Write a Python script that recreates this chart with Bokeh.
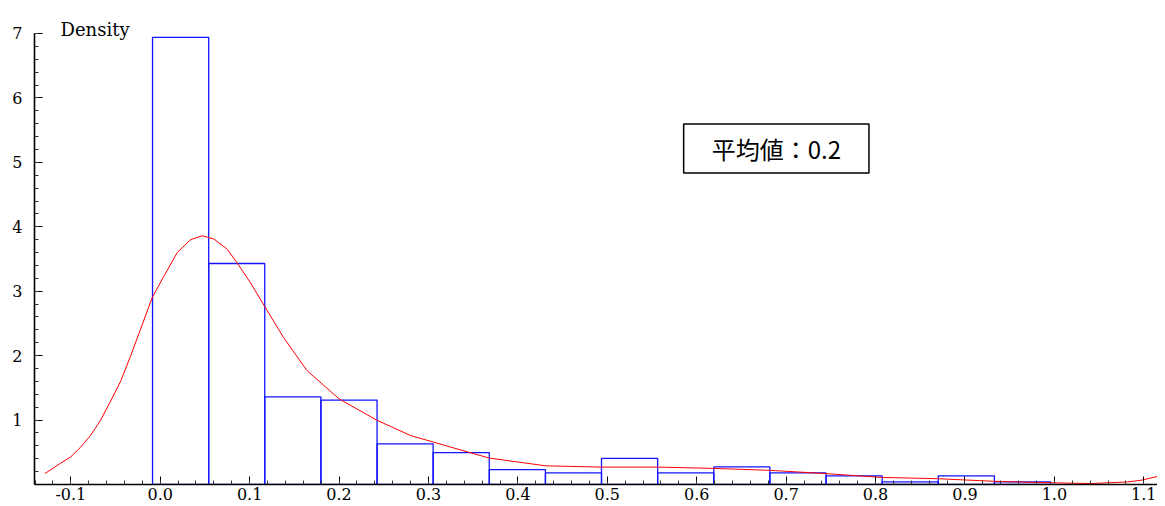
from bokeh.plotting import figure
from bokeh.models import Range1d, FixedTicker, NumeralTickFormatter, Label
from bokeh.embed import file_html
from bokeh.resources import INLINE
import numpy as np

# histogram data (density)
bin_edges = [-0.0086, 0.0542, 0.1169, 0.1797, 0.2425, 0.3052, 0.3680, 0.4308,
             0.4935, 0.5563, 0.6191, 0.6818, 0.7446, 0.8074, 0.8701, 0.9329, 0.9957]
densities = [6.94, 3.43, 1.36, 1.31, 0.63, 0.495, 0.232, 0.18,
             0.407, 0.18, 0.273, 0.18, 0.134, 0.041, 0.134, 0.041]

# kernel density curve
kde_x = [-0.129, -0.112, -0.100, -0.089, -0.078, -0.067, -0.056, -0.044, -0.033, -0.022,
         -0.009, 0.004, 0.019, 0.034, 0.047, 0.060, 0.075, 0.086, 0.101, 0.117,
         0.138, 0.164, 0.200, 0.242, 0.280, 0.325, 0.368, 0.431, 0.493, 0.556,
         0.619, 0.681, 0.744, 0.807, 0.869, 0.932, 0.985, 1.041, 1.082, 1.097, 1.117]
kde_y = [0.17, 0.325, 0.43, 0.58, 0.76, 0.99, 1.28, 1.61, 2.00, 2.41,
         2.90, 3.23, 3.60, 3.80, 3.86, 3.81, 3.65, 3.44, 3.13, 2.76,
         2.28, 1.77, 1.33, 1.00, 0.76, 0.58, 0.41, 0.29, 0.27, 0.27,
         0.25, 0.22, 0.17, 0.11, 0.09, 0.05, 0.03, 0.015, 0.04, 0.066, 0.13]

x_ticks = [-0.1, 0.0, 0.1, 0.2, 0.3, 0.4, 0.5, 0.6, 0.7, 0.8, 0.9, 1.0, 1.1]
y_ticks = [1, 2, 3, 4, 5, 6, 7]
y_label = "Density"
mean_text = "平均値：0.2"
mean_value = 0.2

p = figure(width=1157, height=502, output_backend="svg", toolbar_location=None,
           x_range=Range1d(-0.1406, 1.1153), y_range=Range1d(0, 7.388),
           min_border_left=34, min_border_right=0, min_border_top=8, min_border_bottom=0)
p.outline_line_color = None
p.xgrid.grid_line_color = None
p.ygrid.grid_line_color = None
p.background_fill_color = "white"

p.quad(left=bin_edges[:-1], right=bin_edges[1:], bottom=0, top=densities,
       fill_color=None, line_color="#1414ff", line_width=1.3)
p.line(kde_x, kde_y, line_color="red", line_width=1)

x_minor = [round(v, 3) for v in np.arange(-0.14, 1.12, 0.02)]
y_minor = [round(v, 3) for v in np.arange(0.2, 7.01, 0.2)]

xa = p.xaxis[0]
xa.ticker = FixedTicker(ticks=x_ticks, minor_ticks=x_minor)
xa.formatter = NumeralTickFormatter(format="0.0")
ya = p.yaxis[0]
ya.ticker = FixedTicker(ticks=y_ticks, minor_ticks=y_minor)
ya.bounds = (0, 7)

for ax in (xa, ya):
    ax.axis_line_color = "black"
    ax.axis_line_width = 1.6
    ax.major_tick_in = 8
    ax.major_tick_out = 0
    ax.minor_tick_in = 4
    ax.minor_tick_out = 0
    ax.major_tick_line_color = "black"
    ax.minor_tick_line_color = "#333333"
    ax.major_tick_line_width = 1
    ax.minor_tick_line_width = 1
    ax.major_label_text_font = "DejaVu Serif"
    ax.major_label_text_font_size = "16px"
    ax.major_label_text_color = "black"
xa.major_label_standoff = 3
ya.major_label_standoff = 12

p.add_layout(Label(x=-0.1115, y=7.055, text=y_label, text_font="DejaVu Serif",
                   text_font_size="18px", text_color="black", text_align="left",
                   text_baseline="alphabetic"))

p.add_layout(Label(x=0.689, y=5.215, text=mean_text, text_font="Noto Sans CJK JP",
                   text_font_size="24px", text_color="black", text_align="center",
                   text_baseline="middle", border_line_color="black", border_line_width=1.5,
                   background_fill_color="white",
                   padding=dict(left=28, right=28, top=7, bottom=7)))

open("out.html", "w").write(file_html(p, INLINE))
